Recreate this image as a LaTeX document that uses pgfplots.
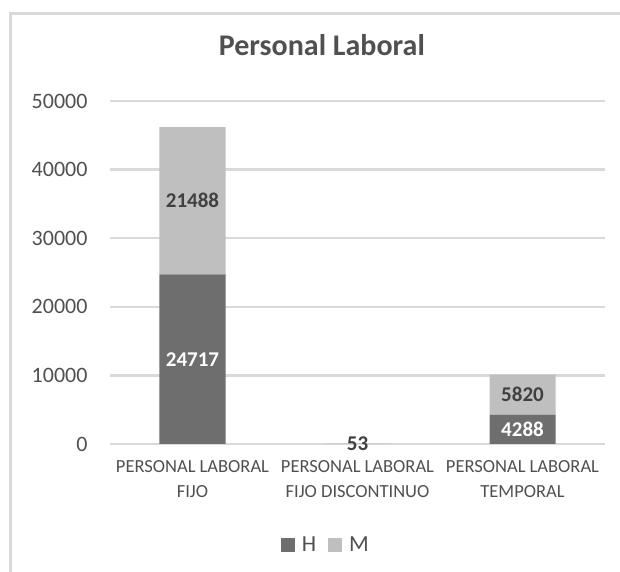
\documentclass[border=0pt]{standalone}
\usepackage{pgfplots}
\pgfplotsset{compat=1.18}
\usepackage{fontspec}
\setmainfont{Carlito}
\definecolor{hcol}{HTML}{6E6E6E}
\definecolor{mcol}{HTML}{BFBFBF}
\definecolor{txt}{HTML}{505050}
\definecolor{grd}{HTML}{D9D9D9}
\begin{document}
\begin{tikzpicture}
\useasboundingbox (0,0) rectangle (620bp,572bp);
\draw[grd, line width=3bp] (10.5bp,0) -- (10.5bp,558.5bp) -- (620bp,558.5bp);
\begin{axis}[
  at={(110bp,128bp)}, anchor=south west,
  width=495bp, height=343bp, scale only axis,
  ybar stacked, bar width=66bp,
  xmin=-0.5, xmax=2.5, ymin=0, ymax=50000,
  xtick={0,1,2},
  xticklabels={{PERSONAL LABORAL\\FIJO},{PERSONAL LABORAL\\FIJO DISCONTINUO},{PERSONAL LABORAL\\TEMPORAL}},
  xticklabel style={align=center, font=\fontsize{18.5bp}{25bp}\selectfont, text=txt, yshift=-13bp},
  ytick={0,10000,20000,30000,40000,50000},
  yticklabel style={font=\fontsize{22bp}{25bp}\selectfont, text=txt, xshift=-19bp},
  /pgf/number format/assume math mode=true,
  /pgf/number format/1000 sep={},
  scaled y ticks=false,
  axis line style={draw=none},
  major tick style={draw=none},
  ymajorgrids, grid style={grd, line width=2.5bp},
  title={\textbf{Personal Laboral}},
  title style={at={(0.428,1.114)}, anchor=base, font=\fontsize{30bp}{32bp}\selectfont, text=txt},
  legend style={at={(0.436,-0.294)}, anchor=center, draw=none, legend columns=2,
    font=\fontsize{23bp}{25bp}\selectfont, text=txt,
    /tikz/every even column/.append style={column sep=10bp}},
  legend image code/.code={\fill[#1] (0bp,-7bp) rectangle (14bp,7bp); \path (19bp,0bp);},
]
\addplot[fill=hcol, draw=none] coordinates {(0,24717) (1,0) (2,4288)};
\addplot[fill=mcol, draw=none] coordinates {(0,21488) (1,53) (2,5820)};
\legend{H,M}
\end{axis}
\begin{axis}[
  at={(110bp,128bp)}, anchor=south west,
  width=495bp, height=343bp, scale only axis,
  xmin=-0.5, xmax=2.5, ymin=0, ymax=50000,
  hide axis, clip=false,
]
\addplot[only marks, mark=none, nodes near coords, point meta=explicit symbolic,
  every node near coord/.style={anchor=center, text=white, font=\bfseries\fontsize{21bp}{22bp}\selectfont}]
  table[meta=lab] {
x y lab
0 12358.5 24717
2 2144 4288
};
\addplot[only marks, mark=none, nodes near coords, point meta=explicit symbolic,
  every node near coord/.style={anchor=center, text=black!75, font=\bfseries\fontsize{21bp}{22bp}\selectfont}]
  table[meta=lab] {
x y lab
0 35461 21488
1 26.5 53
2 7198 5820
};
\end{axis}
\end{tikzpicture}
\end{document}
